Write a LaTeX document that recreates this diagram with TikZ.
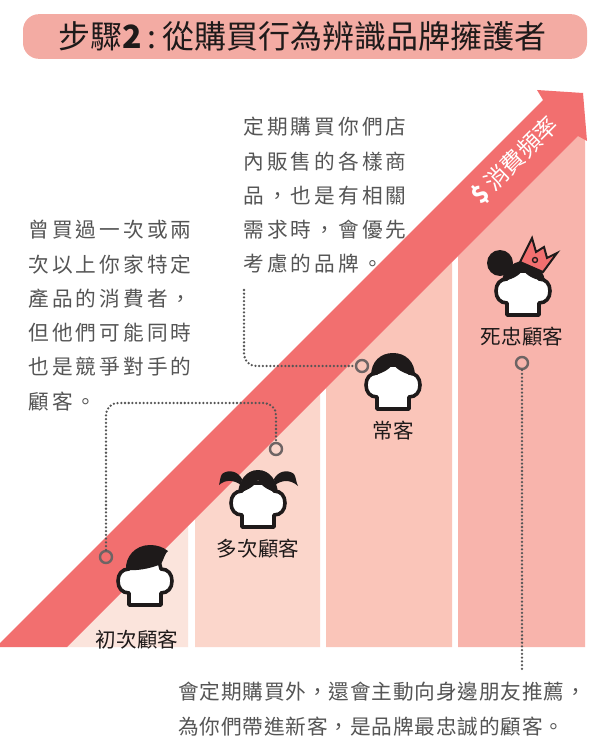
\documentclass[tikz,border=0pt]{standalone}
\usepackage{fontspec}
\setmainfont{Noto Sans CJK TC}
\newfontfamily\bodyfont[LetterSpace=15]{Noto Sans CJK TC}
\newfontfamily\botfont[LetterSpace=4]{Noto Sans CJK TC}
\newfontfamily\headfont{Noto Sans CJK TC}
\newcommand\fwc{\symbol{"FF0C}}
\definecolor{band}{HTML}{F26F6F}
\definecolor{barA}{HTML}{FBE4DC}
\definecolor{barB}{HTML}{FBD6CB}
\definecolor{barC}{HTML}{FAC5B9}
\definecolor{barD}{HTML}{F8B4AC}
\definecolor{titlefill}{HTML}{F3ABA3}
\definecolor{ink}{HTML}{1E1A1A}
\definecolor{body}{HTML}{555555}
\definecolor{ringc}{HTML}{6E6464}
\newcommand\faceshape{%
  \draw[fill=white,draw=ink,line width=2.7pt,line join=round]
      (-16,2) -- (-16,14) .. controls (-23,14) and (-27,19) .. (-27,26)
      .. controls (-27,33) and (-23,38) .. (-16,38)
      -- (-14,46) -- (14,46) -- (16,38)
      .. controls (23,38) and (27,33) .. (27,26)
      .. controls (27,19) and (23,14) .. (16,14) -- (16,2) -- cycle;}
\tikzset{
  bodytext/.style={anchor=north west,inner sep=0pt,align=left,text=body,font=\fontsize{15.5}{25.7}\selectfont\bodyfont},
  bottext/.style={anchor=north west,inner sep=0pt,align=left,text=body,font=\fontsize{15.5}{25.7}\selectfont\botfont},
  figlabel/.style={inner sep=0pt,text=ink,font=\fontsize{15.4}{18}\selectfont},
  ring/.style={circle,draw=ringc,line width=1.8pt,minimum size=9pt,inner sep=0pt},
  dotline/.style={draw=body,line width=1.9pt,line cap=round,dash pattern=on 0pt off 2.8pt,rounded corners=9pt},
  hair/.style={fill=ink,draw=none}
}
\begin{document}
\begin{tikzpicture}[x=.75pt,y=-.75pt]
\useasboundingbox (0,0) rectangle (600,752);
\fill[white] (0,0) rectangle (600,752);
% title
\node[fill=titlefill,rounded corners=12pt,minimum width=423pt,minimum height=33.5pt,inner sep=0pt] (title) at (305,36.5) {};
\node[inner sep=0pt,text=ink,font=\fontsize{24}{28}\selectfont\headfont] (titletext) at (302.5,36) {步驟\textbf{2}\,:\,從購買行為辨識品牌擁護者};
% bars
\fill[barA] (67,647) -- (188,526) -- (188,647) -- cycle;
\fill[barB] (195,519) -- (320,394) -- (320,647) -- (195,647) -- cycle;
\fill[barC] (326,388) -- (452,262) -- (452,647) -- (326,647) -- cycle;
\fill[barD] (458,256) -- (585,129) -- (585,647) -- (458,647) -- cycle;
% arrow band
\fill[band] (0,643) -- (543,100) -- (537,90) -- (583,93) -- (587,141) -- (578,136) -- (67,647) -- (0,647) -- cycle;
\node[rotate=45,inner sep=0pt,text=white,font=\fontsize{17.5}{20}\selectfont] (freq) at (515,160) {\textbf{\$}\,消費頻率};
% figure 1
\begin{scope}[shift={(145,607)},yscale=-1]
  \faceshape
  \fill[hair] (-19,37) .. controls (-20,50) and (-10,62) .. (5,62) .. controls (12,62) and (18,60) .. (23,56)
     .. controls (20,54) and (19,48) .. (16,43) .. controls (5,38) and (-10,36) .. (-19,37) -- cycle;
\end{scope}
% figure 2
\begin{scope}[shift={(258,529)},yscale=-1]
  \faceshape
  \fill[hair] (-20,36) .. controls (-19,48) and (-12,59) .. (0,59) .. controls (12,59) and (19,48) .. (20,36)
     .. controls (12,38) and (4,42) .. (0,49) .. controls (-4,42) and (-12,38) .. (-20,36) -- cycle;
  \fill[hair] (-16,50) .. controls (-20,58) and (-30,60) .. (-36,55) .. controls (-38,52) and (-38,47) .. (-39,44)
     .. controls (-32,50) and (-24,49) .. (-17,44) -- cycle;
  \fill[hair] (16,50) .. controls (20,58) and (30,60) .. (36,55) .. controls (38,52) and (38,47) .. (40,43)
     .. controls (32,50) and (24,49) .. (17,44) -- cycle;
\end{scope}
% figure 3
\begin{scope}[shift={(393,411)},yscale=-1]
  \faceshape
  \fill[hair] (-22,35) .. controls (-22,50) and (-12,58) .. (0,58) .. controls (12,58) and (22,50) .. (22,35)
     .. controls (12,37) and (4,41) .. (0,47) .. controls (-4,41) and (-12,37) .. (-22,35) -- cycle;
\end{scope}
% figure 4
\begin{scope}[shift={(523,317)},yscale=-1]
  \faceshape
  \fill[hair] (-21,36) .. controls (-20,46) and (-12,55) .. (0,56) .. controls (8,57) and (20,50) .. (22,36)
     .. controls (12,37) and (4,41) .. (0,47) .. controls (-4,41) and (-12,37) .. (-21,36) -- cycle;
  \fill[hair] (-23,54) circle (13);
  \draw[fill=band,draw=ink,line width=1.5pt,line join=miter] (-3,55) -- (9,79) -- (13,65) -- (21,70) -- (24,59) -- (34,64) -- (20,45) -- cycle;
  \draw[draw=ink,line width=1pt,fill=band] (12,57) circle (2.5);
\end{scope}
% labels
\node[figlabel] (la) at (137,640) {初次顧客};
\node[figlabel] (lb) at (258,549) {多次顧客};
\node[figlabel] (lc) at (393,431) {常客};
\node[figlabel] (ld) at (522,337) {死忠顧客};
% text blocks
\node[bodytext] (ta) at (28,220) {曾買過一次或兩\\次以上你家特定\\產品的消費者\fwc\\但他們可能同時\\也是競爭對手的\\顧客。};
\node[bodytext] (tb) at (243,117) {定期購買你們店\\內販售的各樣商\\品\fwc 也是有相關\\需求時\fwc 會優先\\考慮的品牌。};
\node[bottext] (tc) at (178,682) {會定期購買外\fwc 還會主動向身邊朋友推薦\fwc\\為你們帶進新客\fwc 是品牌最忠誠的顧客。};
% rings and dotted connectors
\node[ring] (ra) at (106,557) {};
\node[ring] (rb) at (276,449) {};
\node[ring] (rc) at (362,366) {};
\node[ring] (rd) at (522,363) {};
\coordinate (a1) at (106,403);
\coordinate (a2) at (276,403);
\coordinate (b0) at (244,290);
\coordinate (b1) at (244,366);
\coordinate (d1) at (522,670);
\draw[dotline] (ra) -- (a1) -- (a2) -- (rb);
\draw[dotline] (b0) -- (b1) -- (rc);
\draw[dotline] (rd) -- (d1);
\end{tikzpicture}
\end{document}
